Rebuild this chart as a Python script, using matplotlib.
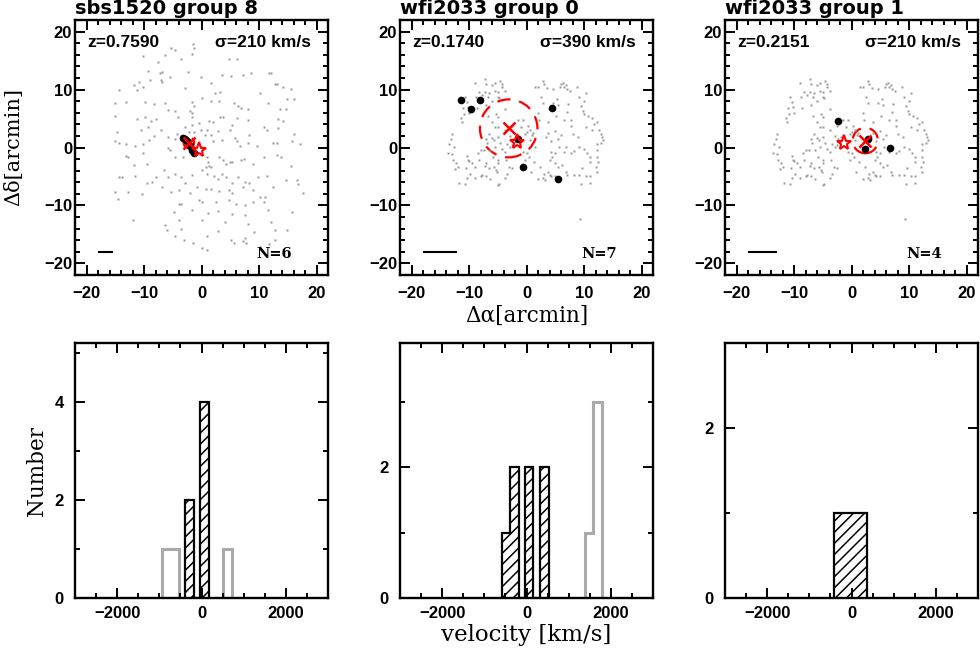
import numpy as np
import matplotlib
matplotlib.use("Agg")
import matplotlib.pyplot as plt
from matplotlib.patches import Circle

# ---- field galaxies (arcmin offsets from the lens) ----
sbs1520_field = np.array([
    (-1.4, 17.9), (-1.3, 17.1), (-1.7, 16.2), (-4.6, 16.9), (-5.3, 17.1), (-6.3, 15.9), (-10.1, 15.8),
    (4.8, 15.2), (6.2, 15.2), (-3.6, 15.2), (-7.5, 14.8), (-9.3, 13.2), (-7.2, 12.9), (-6.8, 13.1),
    (11.8, 12.9), (12.0, 12.8), (-2.4, 13.1), (-5.5, 12.2), (-7.0, 11.7), (-8.9, 11.6), (-6.9, 11.3),
    (-0.1, 12.1), (1.7, 11.2), (3.5, 12.5), (5.2, 12.3), (7.2, 12.5), (8.6, 12.8), (12.7, 11.0),
    (13.2, 10.9), (14.1, 10.5), (15.6, 10.1), (2.3, 9.4), (3.2, 9.6), (-14.4, 10.0), (-11.8, 10.8),
    (-10.9, 11.3), (-10.1, 10.5), (-11.3, 9.9), (-2.9, 10.2), (10.1, 9.4), (-15.1, 7.6), (-13.1, 7.9),
    (-9.8, 7.9), (-8.3, 7.5), (-6.4, 7.6), (-1.6, 7.9), (-1.3, 7.1), (0.0, 8.5), (1.7, 8.0), (3.0, 8.1),
    (5.6, 7.6), (6.4, 7.1), (6.8, 6.9), (8.1, 6.7), (11.6, 7.7), (14.8, 8.3), (16.0, 8.3), (13.6, 6.7),
    (14.7, 6.6), (-2.0, 6.3), (-1.7, 5.9), (-5.8, 6.4), (-15.1, 5.5), (-11.2, 5.0), (-9.9, 5.2),
    (-8.7, 4.6), (-7.9, 4.9), (-4.6, 6.3), (-4.1, 5.3), (-1.7, 5.3), (1.3, 4.6), (2.0, 4.4), (3.3, 5.3),
    (3.8, 5.2), (6.2, 5.1), (8.1, 4.8), (13.3, 5.0), (14.1, 4.5), (5.3, 3.9), (-14.7, 2.7), (-10.5, 3.0),
    (-9.3, 3.6), (-7.0, 3.0), (-1.7, 3.9), (-0.5, 4.3), (-2.9, 3.6), (-2.2, 2.7), (-1.3, 2.7), (-0.1, 3.0),
    (1.0, 3.0), (1.7, 2.1), (2.9, 2.9), (4.9, 3.0), (8.3, 2.1), (10.8, 3.5), (11.4, 3.0), (13.3, 3.3),
    (16.0, 2.4), (-15.0, 1.2), (-13.1, 0.6), (-11.6, 0.2), (-10.1, 0.6), (-9.1, 1.3), (-8.2, 2.0),
    (-5.9, 1.8), (-4.3, 2.4), (-4.6, 1.4), (-3.6, 2.0), (0.6, 2.1), (2.0, 1.2), (3.5, 1.3), (5.8, 1.7),
    (6.2, 1.2), (6.7, 0.2), (8.1, 0.8), (9.7, 0.2), (12.4, 0.7), (13.1, 0.7), (15.8, 1.2), (17.1, 0.6),
    (-14.4, 0.7), (-13.2, -1.5), (-12.7, -1.6), (-11.8, -3.0), (-10.1, -1.0), (-9.5, -2.8), (-5.8, 0.0),
    (-5.5, -0.5), (-4.6, -1.6), (-3.2, -1.6), (-2.0, -1.0), (0.9, -1.7), (1.2, -2.5), (1.3, -3.2),
    (0.7, -3.3), (1.7, -3.3), (3.0, -1.6), (3.7, -2.2), (4.3, -2.8), (4.9, -2.5), (5.3, -2.5), (6.8, -2.2),
    (7.4, -1.9), (8.9, -2.9), (10.9, -1.7), (13.1, -1.3), (13.8, -1.6), (15.5, -3.2), (-14.4, -5.1),
    (-13.9, -5.1), (-11.6, -4.9), (-9.5, -6.2), (-8.6, -6.0), (-7.9, -5.1), (-6.6, -3.8), (-5.9, -5.1),
    (-4.6, -4.6), (-3.5, -5.1), (-2.9, -6.2), (-1.6, -4.8), (0.1, -3.9), (1.0, -4.6), (2.2, -4.9),
    (2.9, -5.5), (3.5, -4.5), (4.3, -5.1), (5.3, -6.1), (6.3, -5.1), (7.6, -5.9), (8.2, -6.2), (9.9, -5.1),
    (11.4, -4.9), (14.7, -5.6), (16.6, -5.6), (16.8, -6.3), (-15.1, -7.6), (-14.5, -8.8), (-12.8, -7.6),
    (-10.4, -8.1), (-6.9, -6.8), (-5.3, -7.6), (-4.0, -7.4), (-2.0, -7.9), (-0.7, -6.8), (0.7, -7.1),
    (1.7, -7.1), (3.0, -7.5), (4.7, -7.4), (5.3, -7.9), (7.2, -6.9), (8.9, -7.4), (10.1, -8.5),
    (10.8, -9.4), (11.0, -8.5), (12.4, -6.8), (17.7, -7.8), (-4.0, -9.7), (-3.6, -9.8), (-0.5, -9.1),
    (0.0, -9.4), (2.6, -9.4), (4.7, -9.1), (6.0, -9.8), (7.5, -10.0), (8.9, -9.4), (11.5, -10.8),
    (15.8, -11.1), (-12.0, -12.5), (-4.7, -11.1), (-4.0, -12.5), (-1.6, -10.8), (0.1, -12.5),
    (1.2, -11.3), (2.9, -10.9), (5.3, -11.4), (7.5, -11.7), (8.1, -13.2), (9.2, -14.6), (12.7, -14.3),
    (14.8, -14.3), (12.0, -12.8), (-6.3, -13.4), (-6.0, -14.2), (-3.6, -14.0), (2.9, -14.4), (4.0, -12.8),
    (1.0, -15.3), (-4.6, -15.3), (-3.0, -16.0), (-1.4, -16.5), (0.0, -17.4), (0.9, -17.7), (5.2, -15.9),
    (5.6, -16.5), (7.2, -16.1), (7.5, -15.7), (7.8, -16.5), (10.1, -17.1), (11.8, -16.7), (12.7, -16.0),
])

wfi2033_field = np.array([
    (-9.0, 11.1), (-7.3, 11.8), (-7.0, 11.0), (-6.0, 10.7), (-5.4, 11.1), (-4.6, 11.4), (-4.3, 11.0),
    (-4.2, 10.4), (-3.8, 9.8), (-4.9, 9.5), (-5.4, 9.8), (-6.5, 9.4), (-7.3, 9.5), (-8.3, 9.5),
    (-8.7, 8.8), (-7.8, 9.0), (-6.7, 8.7), (-6.0, 8.1), (-5.0, 8.8), (-4.7, 8.6), (-3.7, 6.7),
    (-10.7, 8.8), (-10.3, 7.8), (-10.1, 7.0), (-11.1, 6.9), (-10.9, 5.8), (-10.0, 5.9), (-11.4, 5.1),
    (-11.3, 4.4), (-8.6, 6.9), (-7.0, 7.3), (-5.3, 5.8), (-4.9, 5.3), (-6.0, 4.4), (-6.7, 5.5),
    (-12.9, 2.4), (-13.1, 1.5), (-13.5, 0.6), (-12.6, 0.1), (-13.7, -1.0), (-13.0, -1.1), (-12.7, -2.1),
    (-12.3, -2.7), (-12.0, -3.3), (-12.4, -3.7), (-10.3, -1.5), (-10.2, -2.1), (-10.0, -2.3),
    (-10.6, -3.6), (-9.9, -4.5), (-9.5, -2.7), (-9.0, -3.3), (-8.3, -2.1), (-8.4, -1.0), (-8.0, -0.5),
    (-7.4, -0.5), (-6.9, 0.7), (-7.0, 1.5), (-6.0, 1.7), (-6.6, 2.4), (-5.7, 1.3), (-4.9, 1.8),
    (-4.6, 0.7), (-6.3, -0.5), (-5.4, 0.1), (-5.9, -1.6), (-5.0, -2.2), (-4.9, -2.7), (-7.0, -2.6),
    (-7.3, -3.2), (-6.5, -3.6), (-5.7, -3.3), (-5.3, -3.9), (-5.1, -4.2), (-7.7, -4.7), (-7.1, -5.0),
    (-6.3, -5.5), (-8.9, -5.3), (-8.0, -5.0), (-10.3, -5.3), (-11.7, -6.2), (-10.7, -6.3), (-5.0, -6.5),
    (-4.7, -6.3), (-3.8, -5.3), (-3.4, -4.5), (-3.1, -3.3), (-2.6, -3.6), (-3.6, -2.2), (-3.8, -0.7),
    (-4.2, -0.2), (-2.9, 1.9), (-2.3, 1.5), (-1.9, 1.8), (-1.4, 2.1), (-0.3, 2.4), (0.0, 2.7), (0.6, 3.0),
    (0.9, 2.1), (1.1, 2.5), (-2.0, 1.0), (-2.6, 0.4), (-2.9, 0.1), (-3.4, 0.6), (-0.9, 3.5), (-0.6, 4.7),
    (0.3, 3.7), (-1.4, 4.7), (0.6, 1.3), (-0.6, -0.7), (0.0, -1.0), (0.4, -1.6), (0.7, -4.2), (-0.3, -2.2),
    (1.3, -2.5), (1.5, 0.1), (-2.5, 3.7), (-3.8, 3.0), (-4.9, 3.5), (-5.4, 3.5), (1.5, 10.4), (2.0, 10.5),
    (2.9, 11.4), (3.1, 11.0), (3.6, 10.2), (4.6, 10.1), (6.0, 11.0), (6.4, 11.1), (6.9, 10.7), (7.1, 10.1),
    (7.6, 9.8), (6.6, 10.4), (5.9, 10.4), (8.7, 10.5), (2.6, 8.8), (2.9, 7.7), (5.3, 8.4), (5.4, 7.3),
    (4.6, 7.7), (7.3, 7.5), (9.1, 8.7), (10.3, 9.4), (10.0, 8.0), (9.5, 7.1), (9.8, 6.3), (2.0, 5.9),
    (2.1, 4.7), (3.8, 4.4), (5.1, 5.5), (6.6, 4.8), (7.1, 6.1), (10.0, 5.8), (10.7, 5.5), (11.4, 5.1),
    (11.7, 4.1), (12.2, 4.4), (7.7, 3.7), (8.0, 2.4), (8.9, 1.8), (10.3, 3.5), (11.4, 3.0), (12.6, 3.0),
    (12.9, 2.4), (13.1, 1.8), (13.0, 0.8), (13.3, 1.3), (12.3, 0.6), (12.2, -0.5), (10.5, -1.0),
    (11.1, -1.6), (12.2, -1.7), (12.4, -2.5), (12.1, -3.3), (11.1, -2.5), (10.0, -0.2), (9.1, 0.1),
    (8.3, -0.6), (7.7, -0.9), (6.9, 0.1), (6.6, -0.7), (5.7, 0.1), (4.9, -1.0), (4.2, -0.7), (4.4, -1.6),
    (4.0, -2.2), (4.9, -2.7), (5.4, -3.3), (6.2, -3.0), (6.9, -4.2), (7.1, -4.7), (8.3, -4.7), (9.1, -4.7),
    (9.7, -3.6), (10.3, -5.0), (11.1, -5.0), (12.2, -4.3), (9.4, -6.3), (11.0, -6.1), (3.7, -4.2),
    (4.0, -4.7), (4.3, -5.0), (4.9, -4.9), (3.1, -4.6), (2.9, -5.3), (2.0, -5.5), (3.3, -5.6), (2.3, -3.3),
    (3.4, 1.8), (4.3, 1.1), (5.4, 1.4), (3.8, 2.5), (4.9, 2.9), (6.0, 2.1), (7.7, 4.7), (9.3, -12.3),
])

# ---- panels ----
titles = ["sbs1520 group 8", "wfi2033 group 0", "wfi2033 group 1"]
fields = [sbs1520_field, wfi2033_field, wfi2033_field]
z_text = ["z=0.7590", "z=0.1740", "z=0.2151"]
sigma_text = ["σ=210 km/s", "σ=390 km/s", "σ=210 km/s"]
n_members = [6, 7, 4]

members = [
    [(-3.2, 1.7), (-2.9, 1.5), (-2.5, 1.1), (-2.0, 0.3), (-1.6, -0.5), (-1.3, -1.0)],
    [(-11.4, 8.2), (-9.6, 6.6), (-8.1, 8.2), (4.4, 6.9), (-1.4, 1.5), (-0.6, -3.3), (5.5, -5.5)],
    [(-2.4, 4.6), (2.9, 1.4), (2.4, -0.3), (6.7, 0.0)],
]
lens_pos = [(-0.4, -0.5), (-1.6, 0.9), (-1.3, 0.8)]
group_center = [(-2.2, 0.8), (-3.1, 3.3), (2.4, 1.2)]
center_err = [0.9, 5.0, 2.2]
scale_bar = [(-17.9, -15.5), (-17.9, -12.3), (-17.8, -13.1)]

# ---- velocity histograms (km/s) ----
member_edges = [[-388, -174, -31, 183],
                [-578, -380, -184, -42, 153, 311, 523],
                [-405, 364]]
member_counts = [[2, 0, 4],
                 [1, 2, 0, 2, 0, 2],
                 [1]]
other_edges = [[-945, -524, 500, 721],
               [1389, 1585, 1797],
               []]
other_counts = [[1, 0, 1],
                [1, 3],
                []]
hist_ymax = [5.2, 3.9, 3.0]
hist_ymajor = [2, 2, 2]

plt.rcParams["hatch.linewidth"] = 1.1
sans = "Liberation Sans"
serif = "DejaVu Serif"

W, H = 980, 653
fig = plt.figure(figsize=(W / 100, H / 100), dpi=100)
lefts = [75, 400, 725]
pw = 253


def style_axes(ax, xpad, ypad):
    for s in ax.spines.values():
        s.set_linewidth(1.7)
    ax.tick_params(which="both", direction="in", top=True, right=True, width=1.4)
    ax.tick_params(which="major", length=7)
    ax.tick_params(which="minor", length=3.5)
    ax.tick_params(axis="x", pad=xpad)
    ax.tick_params(axis="y", pad=ypad)
    for lab in ax.get_xticklabels() + ax.get_yticklabels():
        lab.set_fontfamily(sans)
        lab.set_fontweight("bold")
        lab.set_fontsize(12)


for i in range(3):
    # ---- sky map ----
    ax = fig.add_axes([lefts[i] / W, 1 - 275 / H, pw / W, 255 / H])
    fld = fields[i]
    ax.plot(fld[:, 0], fld[:, 1], "s", ms=1.8, color="#999999", mec="none")
    m = np.array(members[i])
    ax.plot(m[:, 0], m[:, 1], "o", ms=5.5, color="black", mec="none")
    ax.add_patch(Circle(group_center[i], center_err[i], fill=False, ec="red",
                        lw=1.6, ls=(0, (6, 4))))
    ax.plot(*group_center[i], "x", ms=8, mew=1.8, color="red")
    ax.plot(*lens_pos[i], "*", ms=11, mfc="none", mec="red", mew=1.5)
    ax.plot(scale_bar[i], [-18.0, -18.0], color="black", lw=1.5)
    ax.text(-19.8, 17.3, z_text[i], fontfamily=sans, fontweight="bold", fontsize=12.5)
    ax.text(19.0, 17.3, sigma_text[i], fontfamily=sans, fontweight="bold", fontsize=12.5,
            ha="right")
    ax.text(15.7, -19.0, "N=%d" % n_members[i], fontfamily=serif, fontweight="bold",
            fontsize=10.5, ha="right")
    ax.set_xlim(-22, 22)
    ax.set_ylim(-22, 22)
    ax.set_xticks([-20, -10, 0, 10, 20])
    ax.set_yticks([-20, -10, 0, 10, 20])
    ax.set_xticks(np.arange(-22, 23, 2), minor=True)
    ax.set_yticks(np.arange(-22, 23, 2), minor=True)
    ax.set_xticklabels(["\u221220", "\u221210", "0", "10", "20"])
    ax.set_yticklabels(["\u221220", "\u221210", "0", "10", "20"])
    style_axes(ax, 8, 2)
    ax.set_title(titles[i], loc="left", fontfamily="DejaVu Sans", fontweight="bold",
                 fontsize=14, pad=4)
    if i == 0:
        ax.set_ylabel("Δδ[arcmin]", fontfamily=serif, fontsize=15, labelpad=15)
    if i == 1:
        ax.set_xlabel("Δα[arcmin]", fontfamily=serif, fontsize=15.5, labelpad=3)

    # ---- velocity histogram ----
    hx = fig.add_axes([lefts[i] / W, 1 - 598 / H, pw / W, 255 / H])
    if other_counts[i]:
        hx.stairs(other_counts[i], other_edges[i], baseline=0, color="#aaaaaa", lw=2.2)
    hx.stairs(member_counts[i], member_edges[i], baseline=0, fill=True, facecolor="white",
              edgecolor="black", hatch="///", lw=1.6)
    hx.set_xlim(-3000, 3000)
    hx.set_ylim(0, hist_ymax[i])
    hx.set_xticks([-2000, 0, 2000])
    hx.set_xticks(np.arange(-3000, 3001, 500), minor=True)
    hx.set_xticklabels(["\u22122000", "0", "2000"])
    yt = np.arange(0, hist_ymax[i] + 0.01, hist_ymajor[i])
    hx.set_yticks(yt)
    hx.set_yticklabels(["%d" % v for v in yt])
    hx.set_yticks(np.arange(0, hist_ymax[i] + 0.01, 1), minor=True)
    style_axes(hx, 6, 8)
    if i == 0:
        hx.set_ylabel("Number", fontfamily=serif, fontsize=15.5, labelpad=5)
    if i == 1:
        hx.set_xlabel("velocity [km/s]", fontfamily=serif, fontsize=16.5, labelpad=2)

fig.savefig("out.png", dpi=100)
